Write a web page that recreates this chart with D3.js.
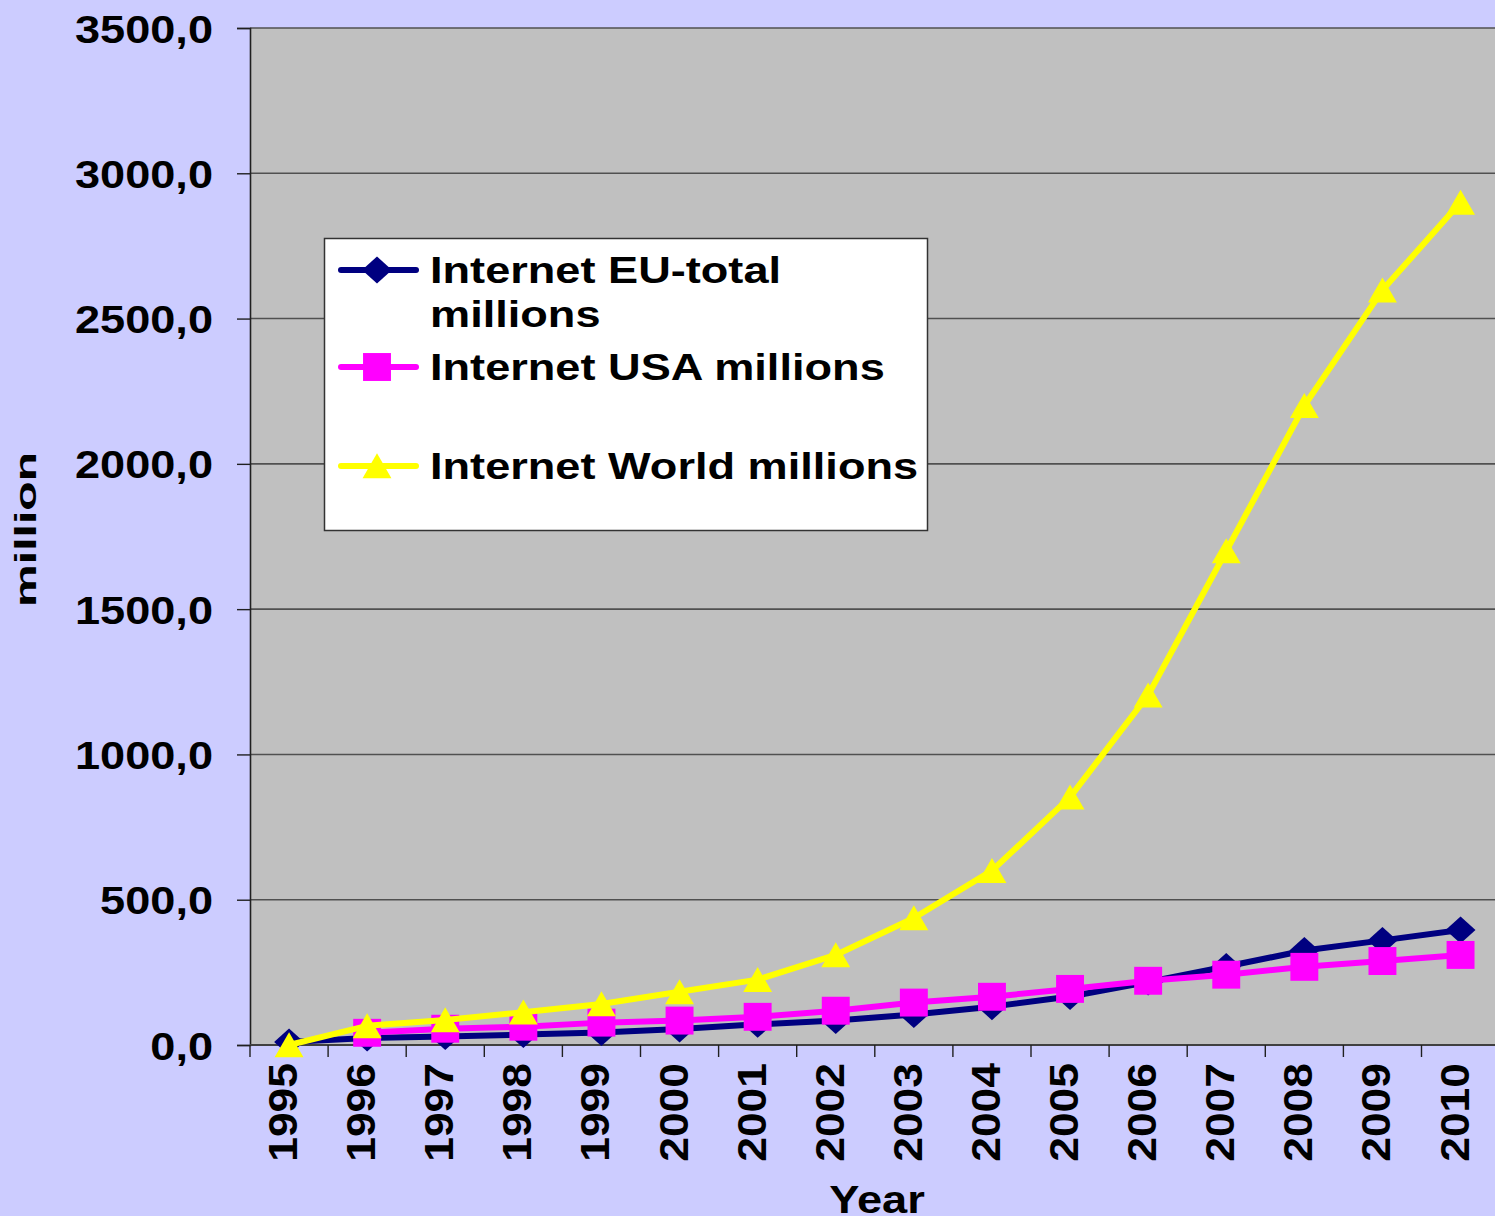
<!DOCTYPE html>
<html>
<head>
<meta charset="utf-8">
<script src="https://cdn.jsdelivr.net/npm/d3@7"></script>
<style>
  body { margin: 0; background: #ccccff; }
  svg { display: block; }
  text { font-family: "Liberation Sans", Arial, sans-serif; font-weight: bold; fill: #000; }
</style>
</head>
<body>
<div id="chart"></div>
<script>
var w = 1495;
var h = 1216;

var years = ["1995", "1996", "1997", "1998", "1999", "2000", "2001", "2002",
  "2003", "2004", "2005", "2006", "2007", "2008", "2009", "2010"];
var euTotal = [10, 24, 29, 36, 43, 55, 71, 84, 105, 132, 167, 217, 270, 325, 360, 396];
var usa = [null, 42, 56, 63, 77, 84, 97, 118, 146, 166, 193, 221, 242, 269, 289, 310];
var world = [0, 66, 86, 113, 141, 183, 225, 310, 437, 600, 853, 1204, 1700, 2200, 2598, 2900];
var yTicks = [0, 500, 1000, 1500, 2000, 2500, 3000, 3500];
var seriesNames = ["Internet EU-total millions", "Internet USA millions", "Internet World millions"];

var plotLeft = 250, plotTop = 28, plotBottom = 1045, plotRight = 250 + 16 * 78.1;

var xScale = d3.scaleBand().domain(years).range([plotLeft, plotRight]);
var yScale = d3.scaleLinear().domain([0, 3500]).range([plotBottom, plotTop]);

var svg = d3.select("#chart").append("svg").attr("width", w).attr("height", h);

svg.append("rect").attr("width", w).attr("height", h).attr("fill", "#ccccff");
svg.append("rect")
  .attr("x", plotLeft).attr("y", plotTop)
  .attr("width", plotRight - plotLeft).attr("height", plotBottom - plotTop)
  .attr("fill", "#c0c0c0");

// gridlines
svg.append("g")
  .selectAll("line")
  .data(yTicks.slice(1))
  .enter()
  .append("line")
  .attr("x1", plotLeft).attr("x2", plotRight)
  .attr("y1", function (d) { return yScale(d); })
  .attr("y2", function (d) { return yScale(d); })
  .attr("stroke", "#505050")
  .attr("stroke-width", 1.6);

// y axis
var yAxis = svg.append("g")
  .attr("transform", "translate(" + plotLeft + ",0)")
  .call(d3.axisLeft(yScale).tickValues(yTicks).tickSize(13).tickPadding(0)
    .tickFormat(function (d) { return d.toFixed(1).replace(".", ","); }));
yAxis.select(".domain").attr("stroke", "#202020").attr("stroke-width", 1.6);
yAxis.selectAll(".tick line").attr("stroke", "#202020").attr("stroke-width", 1.4);
yAxis.selectAll(".tick text")
  .attr("x", 0).attr("dy", null).attr("y", 14)
  .attr("font-size", 39)
  .attr("font-family", null)
  .attr("transform", "translate(-37,0) scale(1.157,1)");

// x axis
var xAxis = svg.append("g").attr("transform", "translate(0," + plotBottom + ")");
xAxis.append("line")
  .attr("x1", plotLeft).attr("x2", plotRight)
  .attr("stroke", "#404040").attr("stroke-width", 2.2);
xAxis.selectAll(".xtick")
  .data(years)
  .enter()
  .append("line")
  .attr("x1", function (d) { return xScale(d); })
  .attr("x2", function (d) { return xScale(d); })
  .attr("y1", 0).attr("y2", 12)
  .attr("stroke", "#202020").attr("stroke-width", 1.4);
xAxis.selectAll(".xlabel")
  .data(years)
  .enter()
  .append("text")
  .attr("text-anchor", "end")
  .attr("font-size", 40)
  .attr("transform", function (d) {
    return "translate(" + (xScale(d) + xScale.bandwidth() / 2 + 8) + ",18) rotate(-90) scale(1.11,1)";
  })
  .text(function (d) { return d; });

// axis titles
svg.append("text")
  .attr("text-anchor", "middle")
  .attr("font-size", 39)
  .attr("transform", "translate(877,1213) scale(1.16,1)")
  .text("Year");

svg.append("clipPath").attr("id", "ytclip")
  .append("rect").attr("x", 0).attr("y", 455).attr("width", 60).attr("height", 200);
svg.append("g").attr("clip-path", "url(#ytclip)")
  .append("text")
  .attr("text-anchor", "start")
  .attr("font-size", 29)
  .attr("transform", "translate(36,607) rotate(-90) scale(1.66,1)")
  .text("millions");

// series
var series = [
  { name: seriesNames[0], values: euTotal, color: "#000080", symbol: d3.symbolDiamond, size: 210, sx: 1.92, dy: 0 },
  { name: seriesNames[1], values: usa, color: "#ff00ff", symbol: d3.symbolSquare, size: 780, sx: 1, dy: 0 },
  { name: seriesNames[2], values: world, color: "#ffff00", symbol: d3.symbolTriangle, size: 361, sx: 1, dy: 4 }
];

var line = d3.line()
  .defined(function (d) { return d != null; })
  .x(function (d, i) { return xScale(years[i]) + xScale.bandwidth() / 2; })
  .y(function (d) { return yScale(d); });

series.forEach(function (s) {
  var g = svg.append("g");
  g.append("path")
    .attr("d", line(s.values))
    .attr("fill", "none")
    .attr("stroke", s.color)
    .attr("stroke-width", 6)
    .attr("stroke-linejoin", "round");
  g.selectAll("path.mark")
    .data(s.values.map(function (v, i) { return { v: v, i: i }; }).filter(function (d) { return d.v != null; }))
    .enter()
    .append("path")
    .attr("class", "mark")
    .attr("d", d3.symbol().type(s.symbol).size(s.size))
    .attr("fill", s.color)
    .attr("transform", function (d) {
      return "translate(" + (xScale(years[d.i]) + xScale.bandwidth() / 2) + "," + (yScale(d.v) + s.dy) + ") scale(" + s.sx + ",1)";
    });
});

// legend
var legend = svg.append("g");
legend.append("rect")
  .attr("x", 324.5).attr("y", 238.5).attr("width", 603).attr("height", 292)
  .attr("fill", "#fff").attr("stroke", "#333").attr("stroke-width", 1.5);

var legendRows = [
  { s: series[0], y: 270, lines: ["Internet EU-total", "millions"] },
  { s: series[1], y: 367, lines: ["Internet USA millions"] },
  { s: series[2], y: 466, lines: ["Internet World millions"] }
];
legendRows.forEach(function (r) {
  legend.append("line")
    .attr("x1", 341).attr("x2", 416)
    .attr("y1", r.y).attr("y2", r.y)
    .attr("stroke", r.s.color).attr("stroke-width", 6).attr("stroke-linecap", "round");
  legend.append("path")
    .attr("d", d3.symbol().type(r.s.symbol).size(r.s.size))
    .attr("fill", r.s.color)
    .attr("transform", "translate(377," + (r.y + r.s.dy) + ") scale(" + r.s.sx + ",1)");
  r.lines.forEach(function (t, k) {
    legend.append("text")
      .attr("font-size", 37)
      .attr("transform", "translate(430," + (r.y + 13 + k * 44) + ") scale(1.22,1)")
      .text(t);
  });
});
</script>
</body>
</html>
